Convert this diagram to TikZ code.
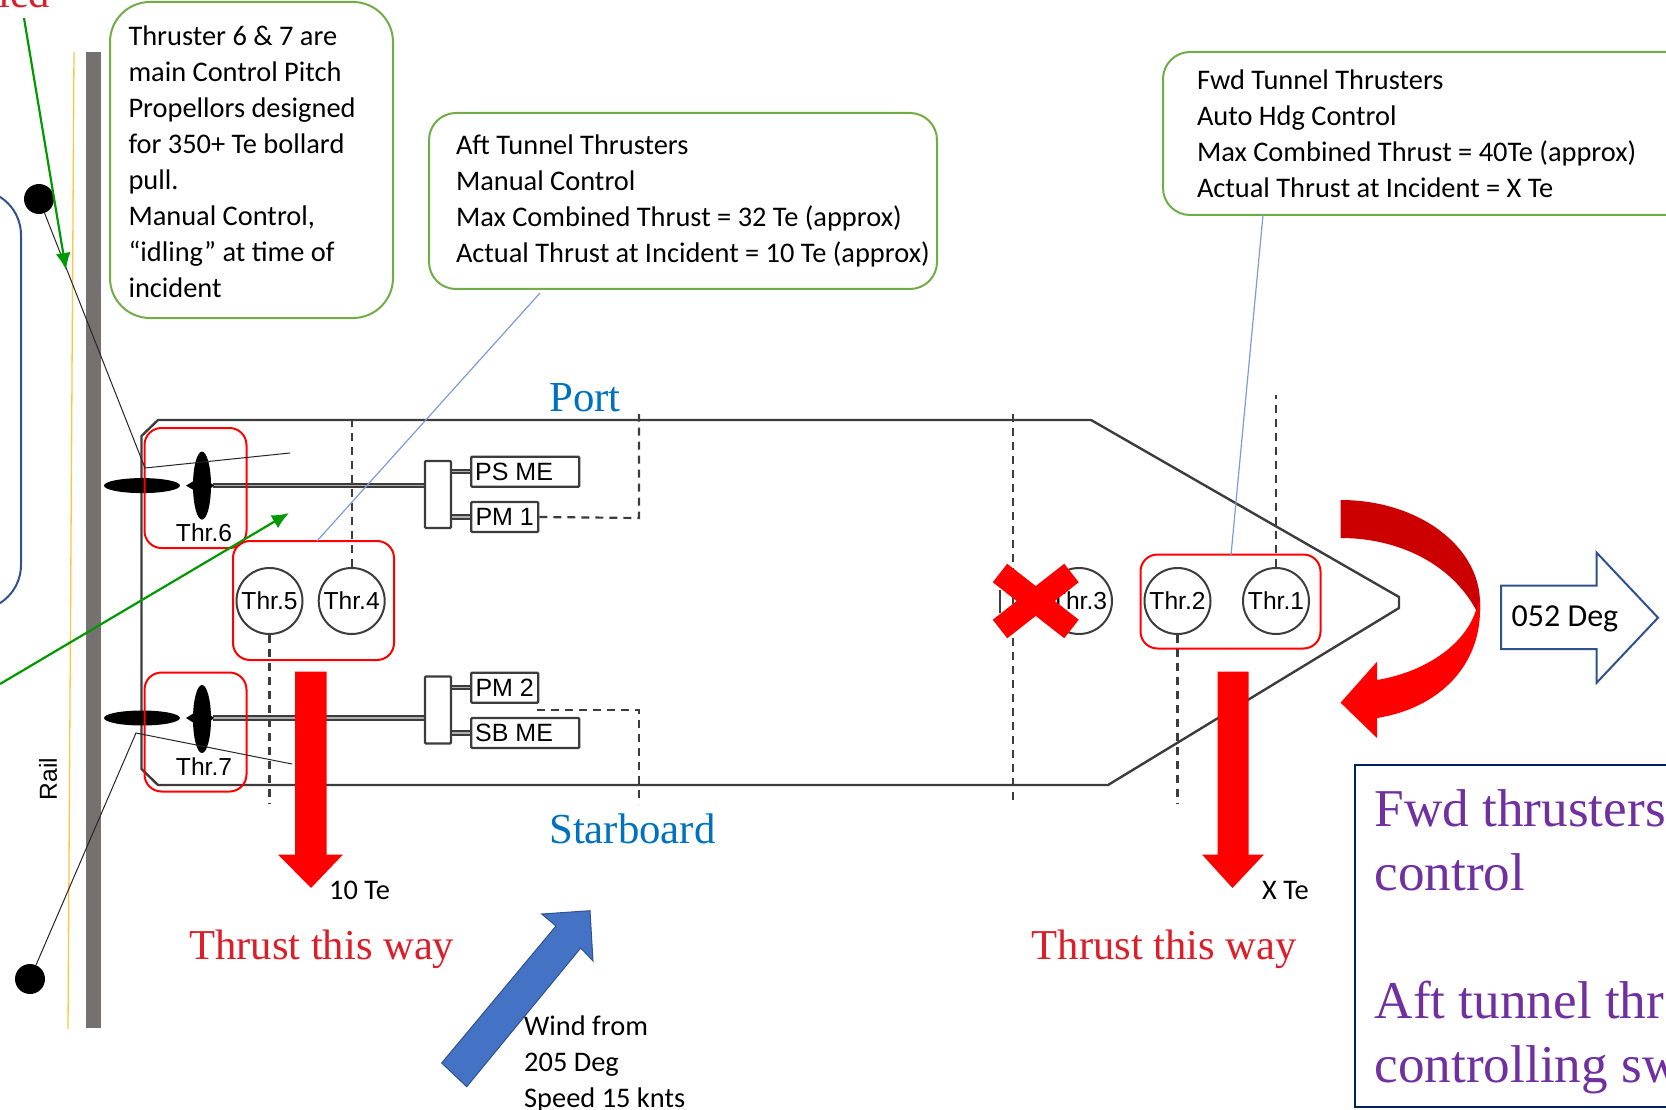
\documentclass[tikz,border=0pt]{standalone}
\usepackage{fontspec}
\setmainfont{Carlito}
\newfontfamily\serifface{Liberation Serif}
\newfontfamily\arialface{Liberation Sans}
\usepackage{xcolor}
\usetikzlibrary{arrows.meta,positioning,shapes.geometric}
\definecolor{noteborder}{RGB}{112,173,71}
\definecolor{leaderblue}{RGB}{125,155,214}
\definecolor{shipline}{RGB}{60,60,60}
\definecolor{railgrey}{RGB}{118,113,113}
\definecolor{railorange}{RGB}{255,200,60}
\definecolor{pointgreen}{RGB}{0,153,0}
\definecolor{thrustred}{RGB}{255,0,0}
\definecolor{turnred}{RGB}{204,0,0}
\definecolor{labelred}{RGB}{220,30,40}
\definecolor{sideblue}{RGB}{0,112,192}
\definecolor{arrowblue}{RGB}{47,82,143}
\definecolor{windblue}{RGB}{68,114,196}
\definecolor{advicenavy}{RGB}{0,32,96}
\definecolor{advicepurple}{RGB}{112,48,160}
\tikzset{
  notebox/.style={
    rectangle,
    draw=noteborder,
    line width=2pt,
    align=flush left,
    inner ysep=0pt,
    font=\fontsize{28.4}{36}\selectfont
  },
  leader/.style={
    draw=leaderblue,
    line width=1.2pt
  },
  thrgroup/.style={
    rectangle,
    rounded corners=17pt,
    draw=thrustred,
    line width=2pt,
    inner sep=0pt
  },
  thrcircle/.style={
    circle,
    draw=shipline,
    line width=2pt,
    minimum size=66pt,
    inner sep=0pt,
    font=\arialface\fontsize{24.6}{24.6}\selectfont
  },
  thrlabel/.style={
    inner sep=0pt,
    font=\arialface\fontsize{24.6}{24.6}\selectfont
  },
  enginebox/.style={
    rectangle,
    rounded corners=1pt,
    draw=shipline,
    line width=2.4pt,
    anchor=west,
    align=flush left,
    minimum height=30pt,
    inner ysep=0pt,
    inner xsep=4pt,
    font=\arialface\fontsize{25}{25}\selectfont
  },
  gearbox/.style={
    rectangle,
    rounded corners=1pt,
    draw=shipline,
    line width=2.4pt,
    minimum width=26pt,
    minimum height=67pt,
    inner sep=0pt
  },
  shipshaft/.style={
    draw=shipline,
    line width=2pt,
    double=white!60!shipline,
    double distance=1.5pt
  },
  cablepath/.style={
    draw=black!85,
    line width=1pt
  },
  cablepost/.style={
    circle,
    fill=black,
    minimum size=30pt,
    inner sep=0pt
  },
  greenarrow/.style={
    -{Latex[length=17pt,width=15pt]},
    line width=2.2pt,
    draw=pointgreen
  },
  dashline/.style={
    draw=shipline,
    line width=2.2pt,
    dash pattern=on 8pt off 6pt
  },
  crossarm/.style={
    draw=thrustred,
    line width=23.5pt
  },
  redlabel/.style={
    anchor=west,
    inner sep=0pt,
    text=labelred,
    font=\serifface\fontsize{42.6}{46}\selectfont
  },
  sidelabel/.style={
    anchor=west,
    inner sep=0pt,
    text=sideblue,
    font=\serifface\fontsize{42.8}{46}\selectfont
  },
  plainlabel/.style={
    anchor=west,
    inner sep=0pt,
    align=flush left,
    font=\fontsize{28.4}{36}\selectfont
  }
}

\begin{document}
\begin{tikzpicture}[x=1pt,y=-1pt]
\useasboundingbox (0,0) rectangle (1666,1110);
\clip (0,0) rectangle (1666,1110);

\draw[arrowblue, line width=2pt, rounded corners=45pt] (-100,190) rectangle (21,610);
\fill[railgrey] (86,52) rectangle (101,1028);
\draw[railorange, line width=1.3pt] (74,52) -- (68,1029);
\node[thrlabel, rotate=90] (rail) at (48,779) {Rail};

\node[notebox, rounded corners=40pt, text width=246pt, inner xsep=18.5pt, minimum height=316pt] (mainnote) at (251.5,160) {\rule{0pt}{24pt}Thruster 6 \& 7 are\\main Control Pitch\\Propellors designed\\for 350+ Te bollard\\pull.\\Manual Control,\\“idling” at time of\\incident};
\node[notebox, rounded corners=27pt, text width=454pt, inner xsep=27pt, minimum height=176pt] (aftnote) at (683,201) {Aft Tunnel Thrusters\\Manual Control\\Max Combined Thrust = 32 Te (approx)\\\mbox{Actual Thrust at Incident = 10 Te (approx)}};
\node[notebox, rounded corners=27pt, text width=489pt, inner xsep=34pt, minimum height=163pt] (fwdnote) at (1441.5,133.5) {Fwd Tunnel Thrusters\\Auto Hdg Control\\Max Combined Thrust = 40Te (approx)\\Actual Thrust at Incident = X Te};

\draw[shipline, line width=2.4pt] (158,420) -- (1091,420) -- (1399,597) -- (1399,608) -- (1108,785) -- (158,785) -- (141.5,769) -- (141.5,436) -- cycle;

\draw[shipshaft] (213,485.6) -- (425,485.6);
\draw[shipshaft] (213,718) -- (425,718);
\node[gearbox] (upgear) at (438,494.5) {};
\node[gearbox] (lowgear) at (438,710) {};
\node[enginebox, minimum width=108pt, text width=100pt] (psme) at (470,471.7) {PS ME};
\node[enginebox, minimum width=67pt] (pmone) at (470,517) {PM 1};
\node[enginebox, minimum width=67pt] (pmtwo) at (470,687.7) {PM 2};
\node[enginebox, minimum width=108pt, text width=100pt] (sbme) at (470,733) {SB ME};
\draw[shipshaft] (upgear.east |- psme) -- (psme);
\draw[shipshaft] (upgear.east |- pmone) -- (pmone);
\draw[shipshaft] (lowgear.east |- pmtwo) -- (pmtwo);
\draw[shipshaft] (lowgear.east |- sbme) -- (sbme);

\fill[black] (142,485.6) ellipse (38 and 7.5);
\fill[black] (202,485.6) ellipse (9 and 34);
\fill[black] (186,485.6) -- (202,476) -- (214,485.6) -- (202,495) -- cycle;
\fill[black] (142,718) ellipse (38 and 7.5);
\fill[black] (202,719) ellipse (9 and 34);
\fill[black] (186,718) -- (202,708) -- (214,718) -- (202,728) -- cycle;

\node[thrgroup, minimum width=102pt, minimum height=120pt] (groupsix) at (195.5,488) {};
\node[thrgroup, minimum width=102pt, minimum height=119pt] (groupseven) at (195.5,732) {};
\node[thrgroup, minimum width=161pt, minimum height=119pt] (groupaft) at (313.5,600.5) {};
\node[thrgroup, minimum width=180pt, minimum height=94pt] (groupfwd) at (1230.5,601.5) {};
\node[thrlabel] (thrsix) at (204,533) {Thr.6};
\node[thrlabel] (thrseven) at (204,767) {Thr.7};
\node[thrcircle] (thrfive) at (269.5,601) {Thr.5};
\node[thrcircle] (thrfour) at (351.7,601) {Thr.4};
\node[thrcircle] (thrthree) at (1079,601) {Thr.3};
\node[thrcircle] (thrtwo) at (1177.5,601) {Thr.2};
\node[thrcircle] (throne) at (1276,601) {Thr.1};

\coordinate (fouraft) at (351.7,414);
\coordinate (fivefwd) at (269.5,804);
\coordinate (threetop) at (1013,414);
\coordinate (threelow) at (1013,800);
\coordinate (onetop) at (1276,395);
\coordinate (twolow) at (1177.5,804);
\coordinate (pmonecorner) at (639,518);
\coordinate (pmonetop) at (639,414);
\coordinate (pmtwostart) at (537,710);
\coordinate (pmtwocorner) at (639,710);
\coordinate (pmtwolow) at (639,804);
\draw[dashline] (thrfour) -- (fouraft);
\draw[dashline] (thrfive) -- (fivefwd);
\draw[dashline] (threetop) -- (threelow);
\draw[dashline] (throne) -- (onetop);
\draw[dashline] (thrtwo) -- (twolow);
\draw[dashline] (pmone.east) -- (pmonecorner) -- (pmonetop);
\draw[dashline] (pmtwostart) -- (pmtwocorner) -- (pmtwolow);
\draw[shipline, line width=1.5pt] (1000,590) -- (1000,613);

\coordinate (aftfrom) at (540,293);
\coordinate (aftto) at (317,541);
\coordinate (fwdfrom) at (1263,215);
\coordinate (fwdto) at (1231,555);
\draw[leader] (aftfrom) -- (aftto);
\draw[leader] (fwdfrom) -- (fwdto);

\node[cablepost] (postup) at (39,199) {};
\node[cablepost] (postlow) at (30,979) {};
\coordinate (cableupa) at (145,468);
\coordinate (cableupb) at (290,453);
\coordinate (cablelowa) at (136,733);
\coordinate (cablelowb) at (292,764);
\draw[cablepath] (postup) -- (cableupa) -- (cableupb);
\draw[cablepath] (postlow) -- (cablelowa) -- (cablelowb);

\fill[thrustred] (295,671.5) -- (326.7,671.5) -- (326.7,854.5) -- (343,854.5) -- (311,888) -- (278,854.5) -- (295,854.5) -- cycle;
\fill[thrustred] (1217.6,671.5) -- (1248.6,671.5) -- (1248.6,854.5) -- (1264,854.5) -- (1232.5,888) -- (1202,854.5) -- (1217.6,854.5) -- cycle;
\draw[crossarm] (1000,573) -- (1071.5,629);
\draw[crossarm] (1071.5,573) -- (1000,629);

\fill[turnred] (1340.6,500) .. controls (1418,500) and (1480,546) .. (1480,603) -- (1480,612) -- (1476,610) .. controls (1452,565) and (1400,538) .. (1340.6,538) -- cycle;
\fill[thrustred] (1476,610) -- (1480,600) -- (1480,610) .. controls (1480,665) and (1440,708) .. (1377,718) -- (1377,738) -- (1340.6,702.7) -- (1377,661.7) -- (1377,680) .. controls (1425,672) and (1465,645) .. (1476,610) -- cycle;

\draw[arrowblue, line width=2pt, fill=white] (1501,585.7) -- (1596.7,585.7) -- (1596.7,552.7) -- (1658,617.7) -- (1596.7,682.7) -- (1596.7,649) -- (1501,649) -- cycle;
\node[plainlabel, font=\fontsize{32}{36}\selectfont] (headinglabel) at (1511.5,619) {052 Deg};

\node[plainlabel] (aftthrust) at (329,890) {10 Te};
\node[plainlabel] (fwdthrust) at (1262,890) {X Te};
\node[redlabel] (aftway) at (189,949) {Thrust this way};
\node[redlabel] (fwdway) at (1031.7,949) {Thrust this way};
\node[redlabel] (clipword) at (-2,-7) {ied};
\node[sidelabel] (portlabel) at (549,398) {Port};
\node[sidelabel] (starlabel) at (549,829) {Starboard};

\coordinate (greenupfrom) at (24,18);
\coordinate (greenupto) at (66,270);
\coordinate (greenlowfrom) at (0,684);
\coordinate (greenlowto) at (289,513);
\draw[greenarrow] (greenupfrom) -- (greenupto);
\draw[greenarrow] (greenlowfrom) -- (greenlowto);

\draw[arrowblue, fill=windblue, line width=1pt] (590,910.7) -- (593,961) -- (580.7,948) -- (466.7,1086.7) -- (441.7,1063) -- (556,926) -- (541.7,914) -- cycle;
\node[plainlabel] (windlabel) at (524,1064) {Wind from\\205 Deg\\Speed 15 knts};

\node[draw=advicenavy, line width=2pt, anchor=north west, minimum width=400pt, minimum height=342pt, inner xsep=20pt, inner ysep=0pt, text width=360pt, align=flush left, text=advicepurple, font=\serifface\fontsize{53.2}{64}\selectfont] (advicebox) at (1353.6,764) {\rule{0pt}{48pt}Fwd thrusters\\control\\[64pt]Aft tunnel thr\\controlling sw};
\end{tikzpicture}
\end{document}
